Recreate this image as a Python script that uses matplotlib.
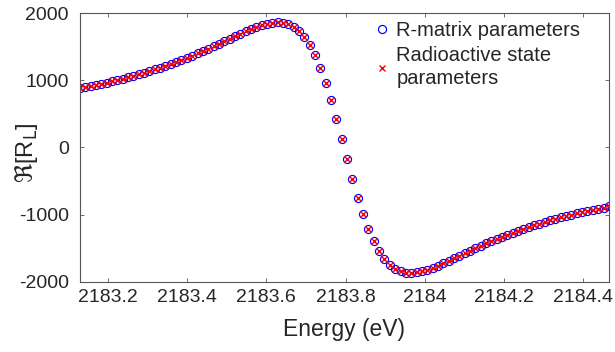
import matplotlib
matplotlib.use("Agg")
import matplotlib.pyplot as plt

energy_ev = [
    2183.1300, 2183.1435, 2183.1570, 2183.1704, 2183.1839, 2183.1974, 2183.2109, 2183.2243, 2183.2378, 2183.2513,
    2183.2648, 2183.2782, 2183.2917, 2183.3052, 2183.3187, 2183.3321, 2183.3456, 2183.3591, 2183.3726, 2183.3860,
    2183.3995, 2183.4130, 2183.4265, 2183.4399, 2183.4534, 2183.4669, 2183.4804, 2183.4938, 2183.5073, 2183.5208,
    2183.5343, 2183.5477, 2183.5612, 2183.5747, 2183.5882, 2183.6016, 2183.6151, 2183.6286, 2183.6421, 2183.6555,
    2183.6690, 2183.6825, 2183.6960, 2183.7094, 2183.7229, 2183.7364, 2183.7499, 2183.7633, 2183.7768, 2183.7903,
    2183.8038, 2183.8172, 2183.8307, 2183.8442, 2183.8577, 2183.8711, 2183.8846, 2183.8981, 2183.9116, 2183.9250,
    2183.9385, 2183.9520, 2183.9655, 2183.9789, 2183.9924, 2184.0059, 2184.0194, 2184.0328, 2184.0463, 2184.0598,
    2184.0733, 2184.0867, 2184.1002, 2184.1137, 2184.1272, 2184.1406, 2184.1541, 2184.1676, 2184.1811, 2184.1945,
    2184.2080, 2184.2215, 2184.2350, 2184.2484, 2184.2619, 2184.2754, 2184.2889, 2184.3023, 2184.3158, 2184.3293,
    2184.3428, 2184.3562, 2184.3697, 2184.3832, 2184.3967, 2184.4101, 2184.4236, 2184.4371, 2184.4506, 2184.4640,
]

re_rmatrix = [
    881, 897, 914, 931, 948, 967, 986, 1005, 1026, 1047,
    1069, 1091, 1115, 1139, 1164, 1191, 1218, 1246, 1275, 1305,
    1336, 1369, 1402, 1436, 1472, 1508, 1545, 1582, 1619, 1657,
    1695, 1731, 1765, 1797, 1825, 1848, 1863, 1870, 1863, 1842,
    1802, 1739, 1649, 1529, 1375, 1185, 961, 705, 425, 128,
    -173, -468, -746, -997, -1216, -1400, -1549, -1665, -1750, -1809,
    -1846, -1865, -1869, -1862, -1845, -1821, -1792, -1760, -1725, -1689,
    -1651, -1614, -1576, -1539, -1502, -1466, -1431, -1397, -1364, -1332,
    -1301, -1270, -1241, -1214, -1187, -1160, -1135, -1111, -1088, -1065,
    -1043, -1023, -1002, -983, -964, -946, -928, -911, -895, -879,
]

re_radioactive = [
    881, 897, 914, 931, 948, 967, 986, 1005, 1026, 1047,
    1069, 1091, 1115, 1139, 1164, 1191, 1218, 1246, 1275, 1305,
    1336, 1369, 1402, 1436, 1472, 1508, 1545, 1582, 1619, 1657,
    1695, 1731, 1765, 1797, 1825, 1848, 1863, 1870, 1863, 1842,
    1802, 1739, 1649, 1529, 1375, 1185, 961, 705, 425, 128,
    -173, -468, -746, -997, -1216, -1400, -1549, -1665, -1750, -1809,
    -1846, -1865, -1869, -1862, -1845, -1821, -1792, -1760, -1725, -1689,
    -1651, -1614, -1576, -1539, -1502, -1466, -1431, -1397, -1364, -1332,
    -1301, -1270, -1241, -1214, -1187, -1160, -1135, -1111, -1088, -1065,
    -1043, -1023, -1002, -983, -964, -946, -928, -911, -895, -879,
]

x_ticks = [2183.2, 2183.4, 2183.6, 2183.8, 2184.0, 2184.2, 2184.4]
x_tick_labels = ["2183.2", "2183.4", "2183.6", "2183.8", "2184", "2184.2", "2184.4"]
y_ticks = [-2000, -1000, 0, 1000, 2000]
y_tick_labels = ["-2000", "-1000", "0", "1000", "2000"]

plt.rcParams['font.family'] = ['Liberation Sans', 'DejaVu Sans']
plt.rcParams['mathtext.fontset'] = 'dejavusans'

txt = '#262626'
fig = plt.figure(figsize=(6.15, 3.52), dpi=100)
ax = fig.add_axes([0.130, 0.200, 0.860, 0.762])

ax.plot(energy_ev, re_rmatrix, linestyle='none', marker='o', markersize=5.8,
        markerfacecolor='none', markeredgecolor='#0000ff', markeredgewidth=0.85,
        label='R-matrix parameters')
ax.plot(energy_ev, re_radioactive, linestyle='none', marker='x', markersize=3.8,
        color='#ff0000', markeredgewidth=1.0,
        label='Radioactive state\nparameters')

ax.set_xlim(energy_ev[0], energy_ev[-1])
ax.set_ylim(-2000, 2000)
ax.set_xticks(x_ticks)
ax.set_xticklabels(x_tick_labels)
ax.set_yticks(y_ticks)
ax.set_yticklabels(y_tick_labels)

ax.tick_params(direction='in', length=3.2, width=0.6, colors='#555555',
               labelcolor=txt, labelsize=14, top=True, right=True)
ax.tick_params(axis='x', pad=5)
ax.tick_params(axis='y', pad=8)
for s in ax.spines.values():
    s.set_color('#555555')
    s.set_linewidth(0.8)

ax.set_xlabel('Energy (eV)', fontsize=16.5, color=txt, labelpad=9)
ax.set_ylabel(r'$\Re$[R$_{\rm L}$]', fontsize=17, color=txt)
ax.yaxis.set_label_coords(-0.076, 0.48)

leg = ax.legend(loc='upper left', bbox_to_anchor=(0.541, 1.0), fontsize=14.5,
                frameon=False, handlelength=0.8, handletextpad=0.3,
                borderaxespad=0.0, labelspacing=0.3)
for t in leg.get_texts():
    t.set_color(txt)
    t.set_linespacing(1.25)

fig.savefig('out.png', dpi=100)
